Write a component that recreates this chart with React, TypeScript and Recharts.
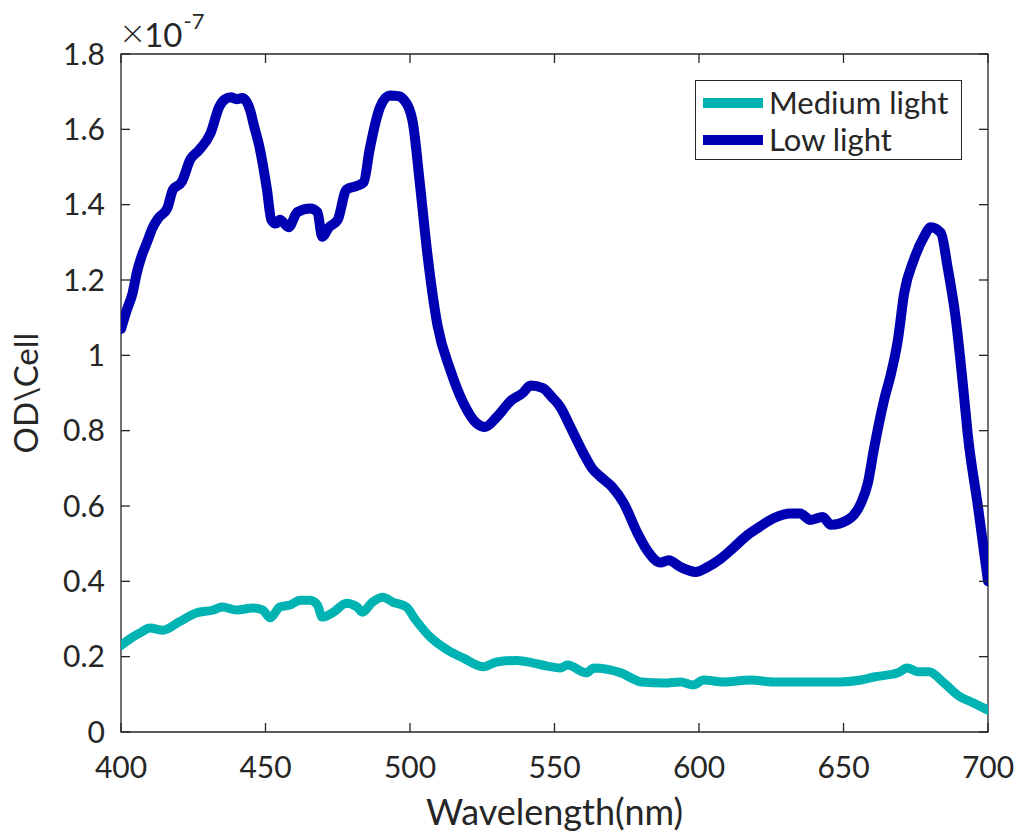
import { Legend, Line, LineChart, ReferenceArea, XAxis, YAxis } from "recharts";

// values are in units of 1e-7 OD per cell (axis shows the x10^-7 factor)
const lowWavelengths = [
  400, 402, 404, 405.5, 407, 409, 411, 413, 416, 418, 421, 424, 427, 431, 434, 436, 438, 440, 442, 444.7,
  446, 448, 450.5, 452, 453.5, 455, 458, 461, 465.5, 468, 469.6, 472, 475, 478, 481.7, 484, 486, 489.7, 493, 496,
  497.7, 500.8, 503.5, 506, 509.5, 514, 518.5, 523, 526, 530, 535, 539, 541.7, 546, 549, 552, 555.5, 560, 563, 566,
  570, 574, 578.7, 582, 586.7, 589.5, 593.6, 598.8, 603, 607.5, 612, 616.8, 621, 626, 631.7, 635, 638.6, 642.8, 645.6, 651.5,
  656, 658.4, 660.5, 664, 666.4, 668.8, 671, 674.3, 677.8, 680.2, 683.7, 686, 688.8, 691.6, 693, 696.5, 700,
];
const lowValues = [
  1.07, 1.12, 1.165, 1.22, 1.26, 1.3, 1.34, 1.365, 1.39, 1.44, 1.46, 1.52, 1.545, 1.59, 1.66, 1.68, 1.685, 1.68, 1.683, 1.65,
  1.61, 1.55, 1.44, 1.36, 1.35, 1.36, 1.34, 1.38, 1.39, 1.38, 1.315, 1.34, 1.36, 1.44, 1.45, 1.46, 1.545, 1.66, 1.69, 1.688,
  1.68, 1.625, 1.45, 1.27, 1.08, 0.96, 0.873, 0.82, 0.81, 0.836, 0.88, 0.9, 0.92, 0.913, 0.89, 0.863, 0.81, 0.74, 0.7, 0.677,
  0.65, 0.607, 0.528, 0.483, 0.45, 0.456, 0.438, 0.425, 0.438, 0.46, 0.49, 0.523, 0.545, 0.568, 0.58, 0.58, 0.563, 0.571, 0.55, 0.563,
  0.607, 0.66, 0.75, 0.88, 0.95, 1.04, 1.165, 1.253, 1.314, 1.34, 1.325, 1.235, 1.1, 0.9, 0.79, 0.6, 0.4,
];

const mediumWavelengths = [
  400, 404, 407, 410, 414.5, 420, 426, 432, 435, 440, 445.7, 449, 451.6, 455, 458.5, 462, 465.5, 468, 469.6, 473.5,
  478, 481.7, 483.5, 487, 490.7, 494, 498.7, 502, 507, 512.9, 518.5, 525.4, 530, 537, 542.7, 547.5, 552, 554.5, 561, 563.6,
  573, 580, 588, 593.6, 598, 601.6, 608.5, 617.8, 626, 637.6, 649, 656, 660.5, 668.8, 672, 675.7, 679.5, 684.8, 689.5, 695, 700,
];
const mediumValues = [
  0.23, 0.252, 0.265, 0.276, 0.27, 0.292, 0.316, 0.324, 0.332, 0.324, 0.329, 0.324, 0.303, 0.332, 0.337, 0.35, 0.35, 0.337, 0.305, 0.318,
  0.342, 0.332, 0.318, 0.345, 0.358, 0.345, 0.332, 0.297, 0.252, 0.218, 0.196, 0.173, 0.186, 0.19, 0.183, 0.175, 0.17, 0.178, 0.157, 0.17,
  0.157, 0.133, 0.13, 0.133, 0.125, 0.138, 0.133, 0.138, 0.133, 0.133, 0.133, 0.138, 0.146, 0.157, 0.17, 0.16, 0.16, 0.13, 0.098, 0.077, 0.058,
];

const seriesNames = ["Medium light", "Low light"];
const xTicks = [400, 450, 500, 550, 600, 650, 700];
const yTicks = [0, 0.2, 0.4, 0.6, 0.8, 1, 1.2, 1.4, 1.6, 1.8];

const lowData = lowWavelengths.map((nm, i) => ({ nm, v: lowValues[i] }));
const mediumData = mediumWavelengths.map((nm, i) => ({ nm, v: mediumValues[i] }));

const FONT = "Lato, 'Open Sans', sans-serif";
const INK = "#262626";
const LOW_COLOR = "#0000b3";
const MEDIUM_COLOR = "#00b3b3";

const LEFT = 121;
const RIGHT = 988;
const TOP = 54;
const BOTTOM = 732;
const TICK_LEN = 9;

function XTick({ x, payload }: any) {
  return (
    <g>
      <line x1={x} x2={x} y1={BOTTOM} y2={BOTTOM - TICK_LEN} stroke={INK} strokeWidth={1.3} />
      <line x1={x} x2={x} y1={TOP} y2={TOP + TICK_LEN} stroke={INK} strokeWidth={1.3} />
      <text x={x} y={778} textAnchor="middle" fill={INK} fontSize={30} fontFamily={FONT}>
        {payload.value}
      </text>
    </g>
  );
}

function YTick({ y, payload }: any) {
  return (
    <g>
      <line x1={LEFT} x2={LEFT + TICK_LEN} y1={y} y2={y} stroke={INK} strokeWidth={1.3} />
      <line x1={RIGHT} x2={RIGHT - TICK_LEN} y1={y} y2={y} stroke={INK} strokeWidth={1.3} />
      <text x={105} y={y} dy="0.36em" textAnchor="end" fill={INK} fontSize={30} fontFamily={FONT}>
        {String(Number(payload.value.toFixed(1)))}
      </text>
    </g>
  );
}

function YLabel() {
  const cy = (TOP + BOTTOM) / 2;
  return (
    <g fontFamily={FONT} fill={INK}>
      <text x={38} y={cy} transform={`rotate(-90 38 ${cy})`} textAnchor="middle" fontSize={33}>
        OD\Cell
      </text>
      <text x={121} y={47} fontSize={33}>
        <tspan fontSize={40} fontWeight={300}>×</tspan>
        <tspan>10</tspan>
        <tspan fontSize={22} dx={1} dy={-18}>-7</tspan>
      </text>
    </g>
  );
}

function XLabel() {
  return (
    <text x={(LEFT + RIGHT) / 2} y={825} textAnchor="middle" fill={INK} fontSize={36} fontFamily={FONT}>
      Wavelength(nm)
    </text>
  );
}

function LegendBox({ payload }: any) {
  const items = seriesNames
    .map((name) => (payload ?? []).find((p: any) => p.value === name))
    .filter(Boolean);
  return (
    <div
      style={{
        boxSizing: "border-box",
        width: 267,
        height: 80,
        border: `1.3px solid ${INK}`,
        background: "#fff",
        fontFamily: FONT,
        color: INK,
        paddingTop: 3,
      }}
    >
      {items.map((item: any) => (
        <div key={item.value} style={{ display: "flex", alignItems: "center", height: 37 }}>
          <div style={{ width: 60, height: 10, marginLeft: 7, background: item.color }} />
          <span style={{ marginLeft: 6, fontSize: 31, lineHeight: "37px" }}>{item.value}</span>
        </div>
      ))}
    </div>
  );
}

export default function App() {
  return (
    <div style={{ position: "absolute", left: 0, top: 0, width: 1022, height: 839, background: "#fff", overflow: "hidden" }}>
      <LineChart width={1022} height={839} margin={{ top: TOP, right: 1022 - RIGHT, bottom: 0, left: 0 }}>
        <XAxis
          type="number"
          dataKey="nm"
          domain={[400, 700]}
          ticks={xTicks}
          allowDataOverflow
          height={839 - BOTTOM}
          axisLine={false}
          tickLine={false}
          tick={<XTick />}
          label={<XLabel />}
        />
        <YAxis
          type="number"
          domain={[0, 1.8]}
          ticks={yTicks}
          allowDataOverflow
          width={LEFT}
          axisLine={false}
          tickLine={false}
          tick={<YTick />}
          label={<YLabel />}
        />
        <ReferenceArea x1={400} x2={700} y1={0} y2={1.8} fill="none" stroke={INK} strokeWidth={1.3} ifOverflow="extendDomain" />
        <Line
          data={mediumData}
          dataKey="v"
          name={seriesNames[0]}
          type="monotone"
          stroke={MEDIUM_COLOR}
          strokeWidth={9}
          strokeLinejoin="round"
          strokeLinecap="round"
          dot={false}
          activeDot={false}
          isAnimationActive={false}
        />
        <Line
          data={lowData}
          dataKey="v"
          name={seriesNames[1]}
          type="monotone"
          stroke={LOW_COLOR}
          strokeWidth={10}
          strokeLinejoin="round"
          strokeLinecap="round"
          dot={false}
          activeDot={false}
          isAnimationActive={false}
        />
        <Legend
          layout="horizontal"
          verticalAlign="middle"
          align="center"
          wrapperStyle={{ position: "absolute", left: 695, top: 80, width: 267, height: 80 }}
          content={<LegendBox />}
        />
      </LineChart>
    </div>
  );
}
